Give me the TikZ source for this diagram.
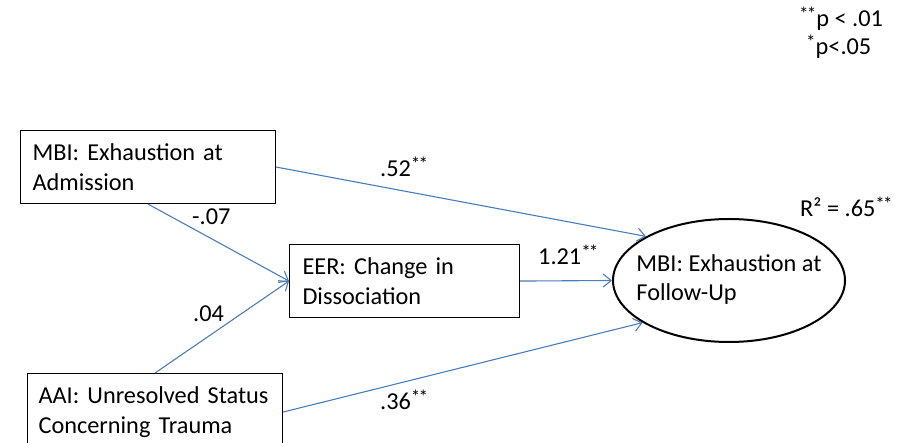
\documentclass[tikz,border=0pt]{standalone}
\usepackage{fontspec}
\setmainfont{Carlito}
\usetikzlibrary{shapes.geometric,arrows.meta}
\definecolor{linkblue}{HTML}{4A7EBB}
\newcommand{\twostar}{\raisebox{6.5pt}{\fontsize{19}{19}\selectfont *\kern-1.8pt*}}
\newcommand{\onestar}{\raisebox{6.5pt}{\fontsize{19}{19}\selectfont *}}
\tikzset{
  boxnode/.style={draw=black, line width=1.1pt, rectangle, align=left, inner ysep=0pt,
    font=\fontsize{24.3}{30.5}\selectfont},
  ovalnode/.style={draw=black, line width=2pt, ellipse, inner sep=0pt,
    minimum width=232pt, minimum height=123pt, font=\fontsize{24.3}{29}\selectfont},
  lbl/.style={anchor=base west, inner sep=0pt, font=\fontsize{24.3}{30}\selectfont},
  link/.style={draw=linkblue, line width=1.1pt, -{Straight Barb[length=8pt,width=13pt,line width=1.1pt]}}
}
\begin{document}
\begin{tikzpicture}[x=1pt,y=-1pt]
\useasboundingbox (0,0) rectangle (900,443);
\node[boxnode, anchor=north west, inner xsep=12pt, text width=231pt, minimum height=73pt] (adm) at (20,130) {MBI: Exhaustion at\\Admission};
\node[boxnode, anchor=north west, inner xsep=13pt, text width=204pt, minimum height=73pt] (eer) at (289,244) {EER: Change in\\Dissociation};
\node[boxnode, anchor=north west, inner xsep=11pt, text width=233pt, minimum height=77pt] (aai) at (27,373) {AAI: Unresolved Status\\Concerning Trauma};
\node[ovalnode] (fu) at (729,280.5) {\makebox[0pt]{\begin{tabular}{@{}l@{}}MBI: Exhaustion at\\Follow-Up\end{tabular}}};

\draw[link] (adm.east) -- (fu.152.6);
\draw[link] (adm.south) -- (eer.west);
\draw[link] (aai.north) -- (eer.west);
\draw[link] (eer.east) -- (fu.west);
\draw[link] (aai.east) -- (fu.206.8);

\node[lbl] (l52) at (380,177) {.52\twostar};
\node[lbl] (l07) at (192,225) {-.07};
\node[lbl] (l04) at (193,322) {.04};
\node[lbl] (l121) at (538,265) {1.21\twostar};
\node[lbl] (l36) at (380,410) {.36\twostar};
\node[lbl] (r2) at (800,217) {R² = .65\twostar};
\node[lbl] (leg1) at (799,27) {\twostar p < .01};
\node[lbl] (leg2) at (806,55) {\onestar p<.05};
\end{tikzpicture}
\end{document}
